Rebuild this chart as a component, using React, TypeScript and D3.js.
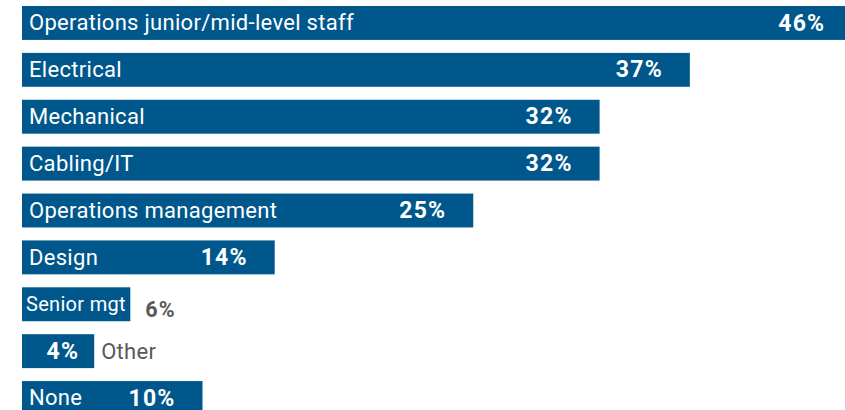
import React from "react";
import * as d3 from "d3";

const categories = [
  "Operations junior/mid-level staff",
  "Electrical",
  "Mechanical",
  "Cabling/IT",
  "Operations management",
  "Design",
  "Senior mgt",
  "Other",
  "None",
];
const values = [46, 37, 32, 32, 25, 14, 6, 4, 10];

const W = 845;
const H = 410;
const BAR = "#00578C";
const GRAY = "#58595B";
const FONT = "Roboto, 'Noto Sans', sans-serif";

export default function App() {
  const x = d3.scaleLinear().domain([0, 100]).range([22, 22 + 1805]);
  const y = d3
    .scaleBand<string>()
    .domain(categories)
    .range([6, 6 + 47 * categories.length - 14])
    .paddingInner(13 / 47)
    .paddingOuter(0);
  const fmt = (v: number) => `${v}%`;

  return (
    <svg
      width={W}
      height={H}
      style={{ position: "absolute", left: 0, top: 0, background: "#fff" }}
      fontFamily={FONT}
    >
      {categories.map((c, i) => {
        const v = values[i];
        const y0 = y(c)!;
        const bh = y.bandwidth();
        const x0 = x(0);
        const x1 = x(v);
        const cy = y0 + bh / 2;
        const small = v < 5;
        const medium = !small && v < 8;
        return (
          <g key={c}>
            <rect x={x0} y={y0} width={x1 - x0} height={bh} fill={BAR} />
            {small ? (
              <>
                <text
                  x={x1 - 15}
                  y={cy}
                  dy="0.35em"
                  textAnchor="end"
                  fill="#fff"
                  fontWeight={700}
                  fontSize={23}
                  letterSpacing={1.2}
                >
                  {fmt(v)}
                </text>
                <text
                  x={x1 + 7}
                  y={cy}
                  dy="0.35em"
                  fill={GRAY}
                  fontSize={22}
                  letterSpacing={0.3}
                >
                  {c}
                </text>
              </>
            ) : medium ? (
              <>
                <text
                  x={x0 + 4}
                  y={cy}
                  dy="0.35em"
                  fill="#fff"
                  fontSize={20}
                  letterSpacing={0.3}
                >
                  {c}
                </text>
                <text
                  x={x1 + 15}
                  y={cy + 5}
                  dy="0.35em"
                  fill={GRAY}
                  fontWeight={700}
                  fontSize={21.5}
                  letterSpacing={1}
                >
                  {fmt(v)}
                </text>
              </>
            ) : (
              <>
                <text
                  x={x0 + 7}
                  y={cy}
                  dy="0.33em"
                  fill="#fff"
                  fontSize={22}
                  letterSpacing={0.3}
                >
                  {c}
                </text>
                <text
                  x={x1 - 27}
                  y={cy}
                  dy="0.33em"
                  textAnchor="end"
                  fill="#fff"
                  fontWeight={700}
                  fontSize={23}
                  letterSpacing={1.2}
                >
                  {fmt(v)}
                </text>
              </>
            )}
          </g>
        );
      })}
    </svg>
  );
}
